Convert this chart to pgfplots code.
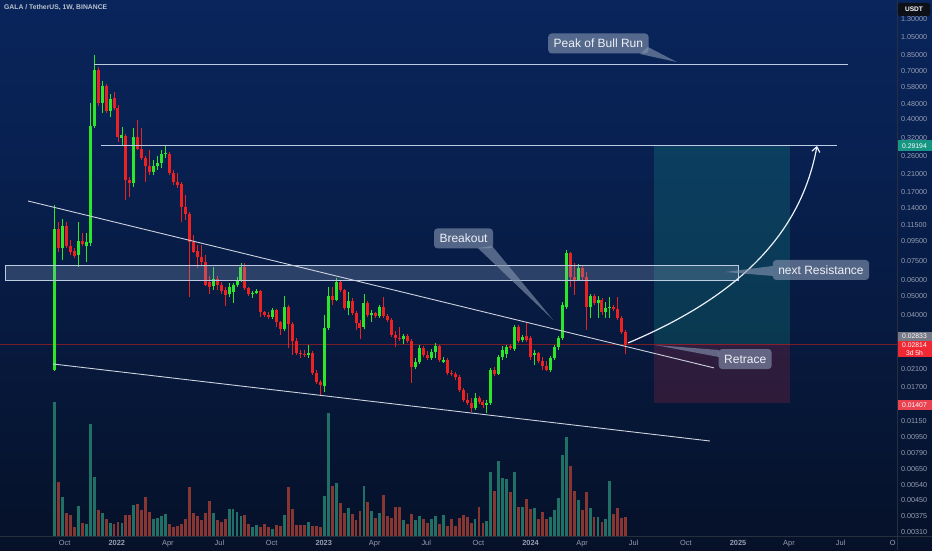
\documentclass[border=0pt]{standalone}
\usepackage{fontspec}
\setmainfont{Liberation Sans}
\usepackage{pgfplots}
\usepackage{pgfplotstable}
\pgfplotsset{compat=1.18}
\usetikzlibrary{arrows.meta}

\definecolor{bgtop}{RGB}{12,44,108}
\definecolor{bgup}{RGB}{8,33,82}
\definecolor{bgmid}{RGB}{6,19,46}
\definecolor{bgbot}{RGB}{5,8,16}
\definecolor{cgreen}{RGB}{44,230,44}
\definecolor{cred}{RGB}{236,34,34}
\definecolor{vteal}{RGB}{32,112,102}
\definecolor{vred}{RGB}{136,54,50}
\definecolor{lblc}{RGB}{132,148,175}
\definecolor{tickc}{RGB}{150,158,176}
\definecolor{linec}{RGB}{190,204,226}
\definecolor{trendc}{RGB}{205,210,222}
\definecolor{pricered}{RGB}{120,28,40}
\definecolor{tealbox}{RGB}{22,150,140}
\definecolor{redbox}{RGB}{240,50,70}
\definecolor{zonefill}{RGB}{150,172,205}
\definecolor{lbltext}{RGB}{238,241,247}
\definecolor{arrowc}{RGB}{236,240,248}
\definecolor{sepc}{RGB}{38,46,64}

\pgfdeclareverticalshading{chartbg}{100bp}{color(0bp)=(bgbot); color(30bp)=(bgmid); color(62bp)=(bgup); color(100bp)=(bgtop)}

\pgfplotstableread{
k o h l c v
-16 0.0209 0.1455 0.0207 0.1096 134
-15 0.1096 0.1191 0.0837 0.0877 53.7
-14 0.0877 0.1234 0.0762 0.1136 38.7
-13 0.1136 0.1191 0.0877 0.0898 22.7
-12 0.0898 0.0964 0.0808 0.0837 21
-11 0.0847 0.0877 0.0780 0.0799 9.3
-10 0.0808 0.1191 0.0702 0.0953 30.3
-9 0.0953 0.1046 0.0898 0.0920 12.7
-8 0.0898 0.1046 0.0744 0.0941 12
-7 0.0931 0.483 0.0898 0.369 112
-6 0.369 0.850 0.360 0.712 58.7
-5 0.712 0.738 0.466 0.483 26
-4 0.483 0.626 0.430 0.590 23.3
-3 0.590 0.604 0.430 0.440 16.7
-2 0.440 0.537 0.410 0.506 12.7
-1 0.512 0.550 0.445 0.455 12
0 0.455 0.471 0.306 0.324 14.3
1 0.320 0.365 0.295 0.332 12.7
2 0.328 0.336 0.1543 0.1952 21
3 0.1952 0.2022 0.1598 0.1884 21
4 0.1884 0.360 0.1798 0.324 30.7
5 0.324 0.396 0.278 0.2815 32
6 0.2815 0.360 0.247 0.253 26
7 0.253 0.259 0.1906 0.230 39.3
8 0.230 0.278 0.2071 0.2145 24.3
9 0.2145 0.247 0.2071 0.230 17
10 0.230 0.259 0.2196 0.2384 18.3
11 0.2384 0.278 0.2248 0.2652 20
12 0.2652 0.295 0.253 0.2684 22
13 0.2652 0.2715 0.2071 0.2120 11.7
14 0.2120 0.2196 0.1841 0.1906 9.3
15 0.1906 0.2120 0.1777 0.1841 10.3
16 0.1862 0.1906 0.1191 0.1421 12
17 0.1421 0.1636 0.1219 0.1309 16.7
18 0.1309 0.1340 0.0493 0.0941 48.7
19 0.0941 0.1022 0.0827 0.0837 22.7
20 0.0847 0.0909 0.0694 0.0790 20
21 0.0790 0.0909 0.0718 0.0744 16
22 0.0744 0.0808 0.0561 0.0568 22.7
23 0.0590 0.0631 0.0510 0.0554 34.7
24 0.0561 0.0702 0.0535 0.0609 22.7
25 0.0609 0.0631 0.0535 0.0568 16
26 0.0568 0.0588 0.0510 0.0529 14.3
27 0.0535 0.0554 0.0444 0.0504 16.7
28 0.0510 0.0581 0.0493 0.0554 26.7
29 0.0522 0.0581 0.0459 0.0568 26.7
30 0.0568 0.0623 0.0554 0.0602 24
31 0.0602 0.0735 0.0588 0.0702 20.3
32 0.0702 0.0735 0.0535 0.0548 20.7
33 0.0548 0.0554 0.0498 0.0510 12
34 0.0510 0.0529 0.0487 0.0516 9.3
35 0.0516 0.0541 0.0510 0.0529 10.7
36 0.0529 0.0535 0.0390 0.0413 9.3
37 0.0413 0.0420 0.0390 0.0399 12
38 0.0399 0.0413 0.0380 0.0390 9.3
39 0.0390 0.0433 0.0380 0.0423 6.7
40 0.0423 0.0428 0.0346 0.0367 10.7
41 0.0367 0.0372 0.0315 0.0338 10.3
42 0.0338 0.0498 0.0330 0.0438 21.3
43 0.0438 0.0449 0.0270 0.0359 48.7
44 0.0359 0.0367 0.0249 0.0294 27.3
45 0.0294 0.0304 0.0249 0.0255 10.7
46 0.0255 0.0264 0.0240 0.0252 10.7
47 0.0252 0.0264 0.0243 0.0249 11
48 0.0249 0.0280 0.0240 0.0255 13.7
49 0.0255 0.0261 0.0197 0.0202 10
50 0.0202 0.0209 0.0177 0.0181 10
51 0.0181 0.01855 0.0156 0.0175 9.3
52 0.0173 0.0399 0.0161 0.0342 40
53 0.0342 0.0554 0.0334 0.0498 122.7
54 0.0498 0.0554 0.0449 0.0476 50
55 0.0476 0.0616 0.0470 0.0588 53.3
56 0.0588 0.0602 0.0522 0.0535 32.7
57 0.0535 0.0541 0.0423 0.0433 22.7
58 0.0433 0.0522 0.0399 0.0470 28
59 0.0470 0.0487 0.0399 0.0408 22
60 0.0408 0.0418 0.0334 0.0363 16
61 0.0363 0.0376 0.0301 0.0342 25.3
62 0.0346 0.0510 0.0338 0.0459 50
63 0.0459 0.0470 0.0390 0.0399 34
64 0.0399 0.0423 0.0367 0.0408 25
65 0.0408 0.0413 0.0385 0.0394 18
66 0.0394 0.0449 0.0385 0.0438 22.7
67 0.0438 0.0493 0.0385 0.0394 40.7
68 0.0394 0.0404 0.0367 0.0376 20
69 0.0376 0.0385 0.0308 0.0315 18
70 0.0315 0.0330 0.0273 0.0304 29.3
71 0.0304 0.0346 0.0294 0.0301 28.7
72 0.0301 0.0319 0.0283 0.0312 16
73 0.0312 0.0319 0.0287 0.0294 11.7
74 0.0294 0.0301 0.0179 0.0216 22
75 0.0216 0.0240 0.0211 0.0229 16
76 0.0229 0.0280 0.0224 0.0270 20
77 0.0270 0.0277 0.0243 0.0249 17.3
78 0.0249 0.0261 0.0235 0.0240 12.7
79 0.0240 0.0267 0.0235 0.0258 16.7
80 0.0258 0.0287 0.0240 0.0277 20
81 0.0277 0.0280 0.0229 0.0235 12
82 0.0229 0.0243 0.0227 0.0235 20.7
83 0.0235 0.0240 0.0197 0.0202 10.3
84 0.0202 0.0209 0.0195 0.0199 16.7
85 0.0199 0.0204 0.01855 0.0193 10.3
86 0.0193 0.0197 0.0161 0.0165 18
87 0.0165 0.0169 0.0143 0.01466 21.5
88 0.01466 0.0159 0.01382 0.01415 18.7
89 0.01415 0.0150 0.01273 0.01334 13.3
90 0.01334 0.0159 0.0131 0.0150 16.7
91 0.0150 0.0154 0.0140 0.0143 28.7
92 0.0143 0.01466 0.01334 0.01382 12.7
93 0.01382 0.01466 0.01258 0.01415 15.3
94 0.01415 0.0214 0.01382 0.0209 63.7
95 0.0209 0.0216 0.0195 0.0199 45
96 0.0199 0.0249 0.0197 0.0243 75
97 0.0243 0.0277 0.0235 0.0264 57.7
98 0.0252 0.0280 0.0240 0.0273 57
99 0.0277 0.0283 0.0264 0.0270 43.7
100 0.0267 0.0355 0.0261 0.0346 63.7
101 0.0346 0.0355 0.0287 0.0294 29.3
102 0.0297 0.0315 0.0291 0.0308 28.7
103 0.0312 0.0363 0.0291 0.0297 37
104 0.0304 0.0312 0.0235 0.0243 27.3
105 0.0249 0.0264 0.0222 0.0255 27.7
106 0.0255 0.0258 0.0227 0.0232 17.3
107 0.0232 0.0243 0.0209 0.0219 23.7
108 0.0219 0.0232 0.0207 0.0209 17
109 0.0209 0.0246 0.0205 0.0240 18.7
110 0.0240 0.0280 0.0235 0.0273 26
111 0.0273 0.0312 0.0264 0.0304 38
112 0.0304 0.0465 0.0297 0.0449 80.7
113 0.0438 0.0857 0.0428 0.0827 98.7
114 0.0827 0.0837 0.0554 0.0623 70.3
115 0.0623 0.0735 0.0504 0.0602 45.3
116 0.0602 0.0727 0.0595 0.0694 36
117 0.0694 0.0710 0.0602 0.0623 26
118 0.0623 0.0661 0.0334 0.0438 43.7
119 0.0438 0.0510 0.0385 0.0498 28
120 0.0498 0.0510 0.0449 0.0459 19.3
121 0.0459 0.0498 0.0385 0.0476 19.3
122 0.0476 0.0487 0.0399 0.0413 13.7
123 0.0413 0.0465 0.0385 0.0433 17
124 0.0433 0.0493 0.0385 0.0438 54.7
125 0.0438 0.0449 0.0418 0.0428 22
126 0.0428 0.0493 0.0376 0.0385 28
127 0.0385 0.0394 0.0319 0.0326 18
128 0.0326 0.0334 0.0252 0.02814 19.3
}\gala

\tikzset{
  lbl/.style={fill=lblc, fill opacity=0.62, text opacity=1, text=lbltext,
    rounded corners=3.5pt, inner xsep=5.5pt, inner ysep=0pt, minimum height=20pt,
    font=\fontsize{12}{14}\selectfont},
  lbltail/.style={fill=lblc, fill opacity=0.62, draw=none},
  pricetag/.style={text=white, inner sep=0pt, minimum width=34pt, font=\fontsize{6.8}{7.6}\selectfont, align=center}
}

\begin{document}
\begin{tikzpicture}[x=1pt,y=1pt]
\shade[shading=chartbg] (0pt,0pt) rectangle (932pt,550pt);

% volume pane
\begin{axis}[at={(0pt,14pt)}, anchor=south west, scale only axis, width=897pt, height=536pt,
  xmin=-29.745, xmax=196.37, ymin=0, ymax=536, hide axis]
\addplot[ycomb, draw=vteal, line width=2.9pt, mark=none] table[x=k, y expr={\thisrow{c}>=\thisrow{o} ? \thisrow{v} : nan}]{\gala};
\addplot[ycomb, draw=vred, line width=2.9pt, mark=none] table[x=k, y expr={\thisrow{c}<\thisrow{o} ? \thisrow{v} : nan}]{\gala};
\end{axis}

% price pane
\begin{axis}[at={(0pt,14pt)}, anchor=south west, scale only axis, width=897pt, height=536pt,
  xmin=-29.745, xmax=196.37, ymode=log, ymin=0.0029587, ymax=1.6229,
  axis line style={draw=none}, tick style={draw=none}, major tick length=0pt,
  minor tick num=0,
  ytick={1.3,1.05,0.85,0.7,0.58,0.48,0.4,0.32,0.26,0.21,0.17,0.14,0.115,0.095,0.075,0.06,0.05,0.04,0.021,0.017,0.0115,0.0095,0.0079,0.0065,0.0054,0.0045,0.00375,0.0031},
  yticklabels={1.30000,1.05000,0.85000,0.70000,0.58000,0.48000,0.40000,0.32000,0.26000,0.21000,0.17000,0.14000,0.11500,0.09500,0.07500,0.06000,0.05000,0.04000,0.02100,0.01700,0.01150,0.00950,0.00790,0.00650,0.00540,0.00450,0.00375,0.00310},
  yticklabel pos=right,
  yticklabel style={anchor=west, inner sep=0pt, xshift=4pt, text=tickc, font=\fontsize{7.2}{8}\selectfont},
  xtick={-13.43,-0.286,12.57,25.57,38.71,51.86,64.71,77.71,90.86,104,117,130,143.14,156.29,169.14,182.14,195.29},
  xticklabels={Oct,\textbf{2022},Apr,Jul,Oct,\textbf{2023},Apr,Jul,Oct,\textbf{2024},Apr,Jul,Oct,\textbf{2025},Apr,Jul,O},
  xticklabel style={anchor=base, inner sep=0pt, yshift=-9.6pt, text=tickc, font=\fontsize{7.4}{8}\selectfont},
]
% current price line
\addplot[draw=pricered, line width=0.6pt] coordinates {(-29.745,0.02814) (196.37,0.02814)};
% long position boxes
\addplot[fill=tealbox, fill opacity=0.25, draw=none] coordinates {(135.1,0.29194) (169.4,0.29194) (169.4,0.02833) (135.1,0.02833)} -- cycle;
\addplot[fill=redbox, fill opacity=0.17, draw=none] coordinates {(135.1,0.02833) (169.4,0.02833) (169.4,0.01407) (135.1,0.01407)} -- cycle;

% wicks
\addplot[draw=none, mark=none, error bars/.cd, y dir=plus, y explicit, error mark=none,
  error bar style={line width=0.9pt, draw=cgreen}]
  table[x=k, y expr={\thisrow{c}>=\thisrow{o} ? \thisrow{l} : nan}, y error expr={\thisrow{h}-\thisrow{l}}]{\gala};
\addplot[draw=none, mark=none, error bars/.cd, y dir=plus, y explicit, error mark=none,
  error bar style={line width=0.9pt, draw=cred}]
  table[x=k, y expr={\thisrow{c}<\thisrow{o} ? \thisrow{l} : nan}, y error expr={\thisrow{h}-\thisrow{l}}]{\gala};
% bodies
\addplot[draw=none, mark=none, error bars/.cd, y dir=plus, y explicit, error mark=none,
  error bar style={line width=3pt, draw=cgreen}]
  table[x=k, y expr={\thisrow{c}>=\thisrow{o} ? \thisrow{o} : nan}, y error expr={max(\thisrow{c}-\thisrow{o},0.012*\thisrow{o})}]{\gala};
\addplot[draw=none, mark=none, error bars/.cd, y dir=plus, y explicit, error mark=none,
  error bar style={line width=3pt, draw=cred}]
  table[x=k, y expr={\thisrow{c}<\thisrow{o} ? \thisrow{c} : nan}, y error expr={max(\thisrow{o}-\thisrow{c},0.012*\thisrow{c})}]{\gala};

% resistance zone
\addplot[fill=zonefill, fill opacity=0.26, draw=linec, line width=0.8pt] coordinates {(-28.5,0.0718) (156.3,0.0718) (156.3,0.0602) (-28.5,0.0602)} -- cycle;
% horizontal levels
\addplot[draw=linec, line width=0.9pt] coordinates {(-6.05,0.764) (184.0,0.764)};
\addplot[draw=linec, line width=0.9pt] coordinates {(-4.29,0.2919) (181.2,0.2919)};
% trend lines
\addplot[draw=trendc, line width=0.9pt] coordinates {(-22.7,0.1525) (150.2,0.0214)};
\addplot[draw=trendc, line width=0.9pt] coordinates {(-16.4,0.0224) (149.2,0.00905)};
% projected path
\draw[draw=arrowc, line width=1.2pt, -{Straight Barb[length=5pt,width=8pt]}]
  (axis cs:128.6,0.0287) .. controls (axis cs:154.3,0.0476) and (axis cs:171.9,0.0964) .. (axis cs:176.2,0.2915);

% callouts
\fill[lbltail] (axis cs:131.6,0.8596) -- (axis cs:133.6,0.933) -- (axis cs:140.9,0.782) -- cycle;
\node[lbl] at (axis cs:121.1,0.973) {Peak of Bull Run};
\fill[lbltail] (axis cs:90.7,0.0877) -- (axis cs:94.3,0.0898) -- (axis cs:109.7,0.0376) -- cycle;
\node[lbl] at (axis cs:87.1,0.0981) {Breakout};
\fill[lbltail] (axis cs:165.1,0.0710) -- (axis cs:165.1,0.0631) -- (axis cs:153.0,0.0661) -- cycle;
\node[lbl] at (axis cs:177.2,0.0677) {next Resistance};
\fill[lbltail] (axis cs:151.5,0.0264) -- (axis cs:151.5,0.0243) -- (axis cs:135.4,0.0280) -- cycle;
\node[lbl] at (axis cs:158.1,0.02375) {Retrace};
\end{axis}

% separators
\draw[draw=sepc, line width=0.6pt] (897pt,0pt) -- (897pt,550pt);
\draw[draw=sepc, line width=0.6pt] (0pt,14pt) -- (932pt,14pt);

% header
\node[anchor=west, inner sep=0pt, text={rgb,255:red,188;green,194;blue,208}, font=\bfseries\fontsize{6.8}{8}\selectfont] at (4pt,542pt) {GALA / TetherUS, 1W, BINANCE};
\node[fill={rgb,255:red,14;green,16;blue,24}, rounded corners=1.5pt, text=white, inner sep=0pt, minimum width=32pt, minimum height=13pt, font=\bfseries\fontsize{6.6}{7}\selectfont] at (914pt,540.5pt) {USDT};

% price tags
\node[pricetag, fill={rgb,255:red,24;green,150;blue,132}, minimum height=11pt] at (914.5pt,404pt) {0.29194};
\node[pricetag, fill={rgb,255:red,118;green,122;blue,134}, minimum height=9pt] at (914.5pt,213.5pt) {0.02833};
\node[pricetag, fill={rgb,255:red,240;green,40;blue,52}, minimum height=16pt] at (914.5pt,201pt) {0.02814\\3d 5h};
\node[pricetag, fill={rgb,255:red,234;green,66;blue,80}, minimum height=10pt] at (914.5pt,145pt) {0.01407};

\pgfresetboundingbox
\useasboundingbox (0pt,0pt) rectangle (932pt,550pt);
\end{tikzpicture}
\end{document}
